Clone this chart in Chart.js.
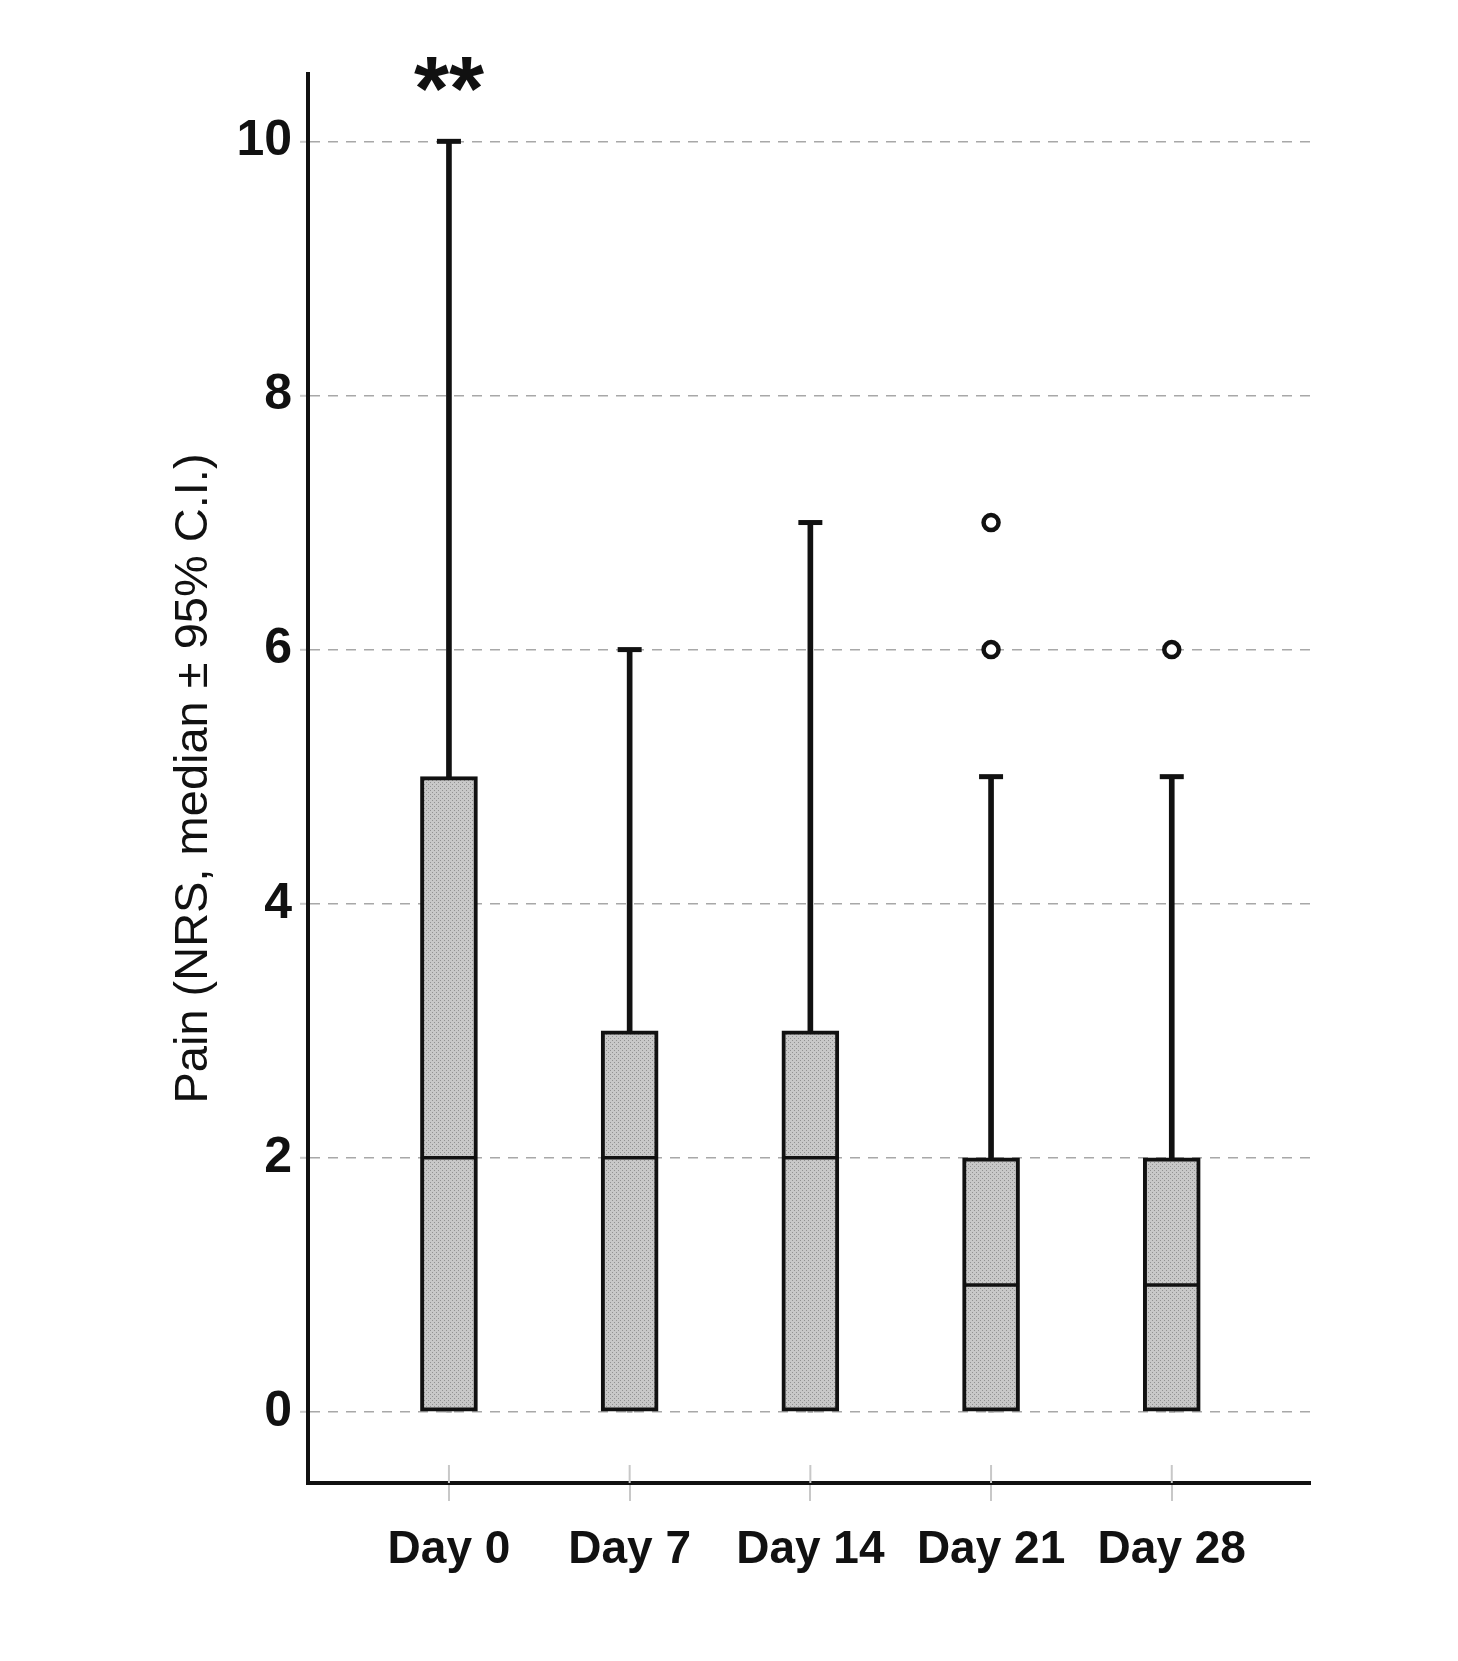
<!DOCTYPE html>
<html>
<head>
<meta charset="utf-8">
<script src="https://cdn.jsdelivr.net/npm/chart.js@4"></script>
<style>
  html, body { margin: 0; padding: 0; background: #fff; }
  #wrap { width: 1458px; height: 1661px; }
</style>
</head>
<body>
<div id="wrap"><canvas id="c" width="1458" height="1661"></canvas></div>
<script>
// ---- data ----
const categories = ['Day 0', 'Day 7', 'Day 14', 'Day 21', 'Day 28'];
const mins     = [0, 0, 0, 0, 0];
const q1s      = [0, 0, 0, 0, 0];
const medians  = [2, 2, 2, 1, 1];
const q3s      = [5, 3, 3, 2, 2];
const maxs     = [10, 6, 7, 5, 5];
const outliers = [[], [], [], [6, 7], [6]];
const sigMarks = ['**', '', '', '', ''];
const yTicks   = [0, 2, 4, 6, 8, 10];
const yTitle   = 'Pain (NRS, median \u00b1 95% C.I.)';

// ---- fill pattern ----
function makePattern() {
  const t = document.createElement('canvas');
  t.width = 4; t.height = 4;
  const g = t.getContext('2d');
  g.fillStyle = '#c8c8c8'; g.fillRect(0, 0, 4, 4);
  g.fillStyle = '#929292';
  g.fillRect(0, 0, 1, 1); g.fillRect(2, 2, 1, 1);
  return g.createPattern(t, 'repeat');
}
const pattern = makePattern();

const boxData = categories.map((c, i) => ({ x: i, y: [q1s[i], q3s[i]] }));
const upperWhisker = categories.map((c, i) => ({ x: i, y: [q3s[i], maxs[i]] }));
const lowerWhisker = categories.map((c, i) => ({ x: i, y: [mins[i], q1s[i]] }));
const capData = categories.map((c, i) => ({ x: i, y: maxs[i] }));
const medData = categories.map((c, i) => ({ x: i, y: medians[i] }));
const outData = [];
outliers.forEach((arr, i) => arr.forEach(v => outData.push({ x: i, y: v })));

const FONT = "'Liberation Sans', Arial, sans-serif";

const extras = {
  id: 'extras',
  afterDatasetsDraw(chart) {
    const ctx = chart.ctx;
    const xs = chart.scales.x, ys = chart.scales.y;
    // x tick marks above the axis line
    ctx.save();
    ctx.strokeStyle = '#c8c8c8';
    ctx.lineWidth = 2;
    categories.forEach((c, i) => {
      const px = xs.getPixelForValue(i);
      ctx.beginPath();
      ctx.moveTo(px, ys.bottom - 18);
      ctx.lineTo(px, ys.bottom);
      ctx.stroke();
    });
    // significance marks
    ctx.fillStyle = '#111';
    ctx.font = "bold 90px " + FONT;
    ctx.textAlign = 'center';
    ctx.textBaseline = 'alphabetic';
    sigMarks.forEach((s, i) => {
      if (!s) return;
      ctx.fillText(s, xs.getPixelForValue(i), ys.getPixelForValue(10.17));
    });
    ctx.restore();
  }
};

new Chart(document.getElementById('c'), {
  type: 'bar',
  data: {
    datasets: [
      {
        type: 'line', label: 'outliers', data: outData, showLine: false,
        pointStyle: 'circle', pointRadius: 7.5, pointBorderWidth: 4.5,
        pointBackgroundColor: '#fff', pointBorderColor: '#111', order: 0
      },
      {
        type: 'line', label: 'median', data: medData, showLine: false,
        pointStyle: 'line', pointRadius: 28, pointBorderWidth: 3.5,
        pointBorderColor: '#111', order: 1
      },
      {
        type: 'line', label: 'caps', data: capData, showLine: false,
        pointStyle: 'line', pointRadius: 12, pointBorderWidth: 5,
        pointBorderColor: '#111', order: 2
      },
      {
        label: 'box', data: boxData, grouped: false,
        backgroundColor: pattern, borderColor: '#111', borderWidth: 4,
        borderSkipped: false, barThickness: 57, order: 3
      },
      {
        label: 'upper', data: upperWhisker, grouped: false,
        backgroundColor: '#111', borderWidth: 0, barThickness: 5, order: 4
      },
      {
        label: 'lower', data: lowerWhisker, grouped: false,
        backgroundColor: '#111', borderWidth: 0, barThickness: 5, order: 5
      }
    ]
  },
  options: {
    responsive: false,
    devicePixelRatio: 1,
    animation: false,
    events: [],
    layout: { padding: { left: 150, right: 148, top: 74, bottom: 0 } },
    plugins: { legend: { display: false }, tooltip: { enabled: false } },
    scales: {
      x: {
        type: 'linear',
        offset: false,
        min: -0.78, max: 4.765,
        afterBuildTicks(scale) { scale.ticks = categories.map((c, i) => ({ value: i })); },
        afterFit(scale) { scale.height = 178; },
        grid: { display: true, offset: false, drawOnChartArea: false, drawTicks: true, tickLength: 18, color: '#c8c8c8', lineWidth: 2 },
        border: { display: true, color: '#111', width: 4 },
        ticks: {
          callback: (v) => categories[v] !== undefined ? categories[v] : '',
          color: '#111', padding: 22, maxRotation: 0, autoSkip: false,
          font: { family: FONT, size: 46, weight: 'bold' }
        }
      },
      y: {
        type: 'linear',
        min: -0.559, max: 10.53,
        afterBuildTicks(scale) { scale.ticks = yTicks.map(v => ({ value: v })); },
        afterFit(scale) { scale.width = 308 - 150; },
        grid: {
          display: true, drawOnChartArea: true, drawTicks: true, tickLength: 8,
          color: '#a8a8a8', lineWidth: 1.6, tickColor: '#c8c8c8', tickWidth: 2,
          tickBorderDash: []
        },
        border: { display: true, color: '#111', width: 4, dash: [10, 8] },
        ticks: {
          color: '#111', padding: 8,
          font: { family: FONT, size: 50, weight: 'bold' }
        },
        title: {
          display: true, text: yTitle, color: '#111',
          font: { family: FONT, size: 47, weight: 'normal' },
          padding: { top: 16, bottom: 0 }
        }
      }
    }
  },
  plugins: [extras]
});
</script>
</body>
</html>
